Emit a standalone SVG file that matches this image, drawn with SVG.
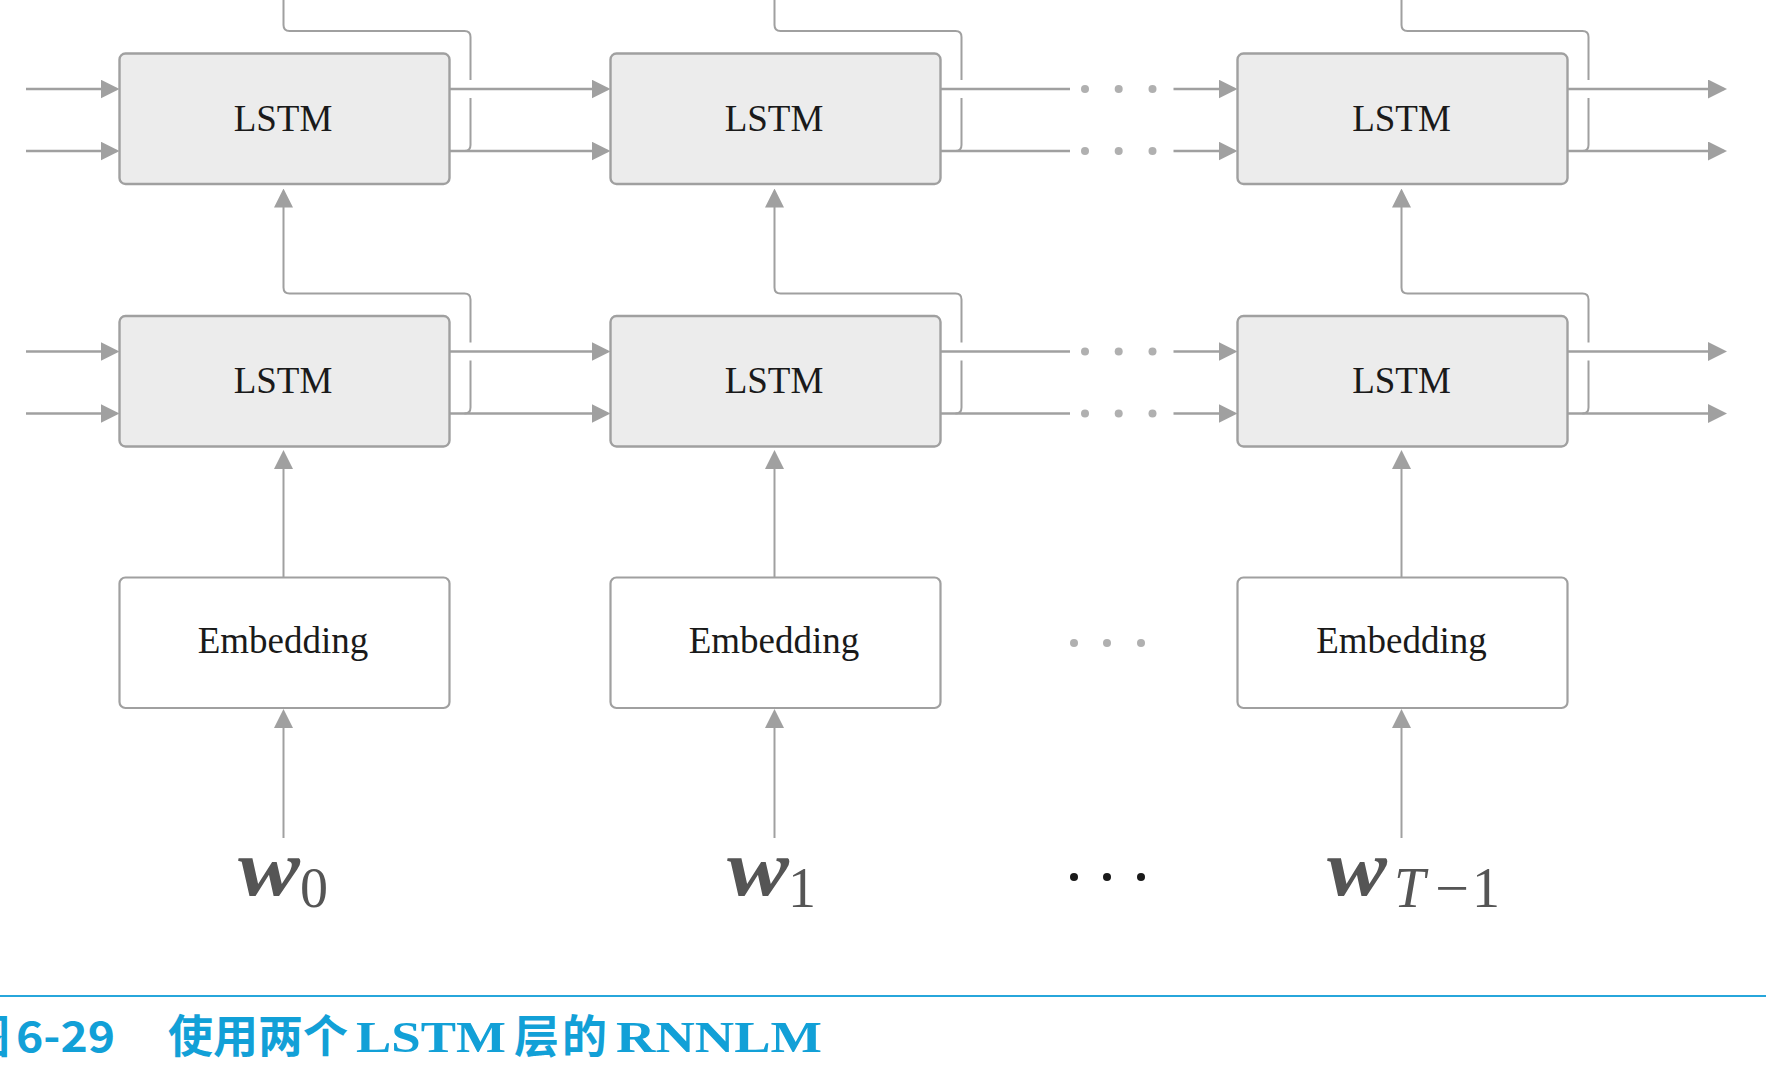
<svg xmlns="http://www.w3.org/2000/svg" width="1766" height="1068" viewBox="0 0 1766 1068">
<style>
.lstm rect{fill:#ececec;stroke:#a0a0a0;stroke-width:2.4}
.emb rect{fill:#ffffff;stroke:#a0a0a0;stroke-width:2.2}
.lbl{font-family:"Liberation Serif","DejaVu Serif",serif;font-size:37px;fill:#1a1a1a;text-anchor:middle}
.ln{fill:none;stroke:#a0a0a0;stroke-width:2.4}
.fb{fill:none;stroke:#a0a0a0;stroke-width:2}
.vt{fill:none;stroke:#a0a0a0;stroke-width:2}
.gd{fill:#b0b0b0}
.bd{fill:#1a1a1a}
.w{font-family:"Liberation Serif","DejaVu Serif",serif;font-weight:bold;font-style:italic;font-size:80px;fill:#555555}
.sub{font-family:"Liberation Serif","DejaVu Serif",serif;font-size:56px;fill:#555555}
.cap{fill:#12a0d7;font-weight:bold}
.cj{font-family:"Noto Sans CJK SC",sans-serif;font-size:45px}
.cl{font-family:"Liberation Serif","DejaVu Serif",serif;font-size:45px}
</style>
<defs>
<marker id="ah" markerUnits="userSpaceOnUse" viewBox="0 0 19 19" refX="16" refY="9.5" markerWidth="19" markerHeight="19" orient="auto">
<path d="M0,0 L19,9.5 L0,19 Z" fill="#a0a0a0"/>
</marker>
</defs>
<rect x="0" y="0" width="1766" height="1068" fill="#ffffff"/>

<g id="connectors">
<line class="ln" x1="26" y1="89" x2="116.5" y2="89" marker-end="url(#ah)"/>
<line class="ln" x1="26" y1="151" x2="116.5" y2="151" marker-end="url(#ah)"/>
<line class="ln" x1="26" y1="351.5" x2="116.5" y2="351.5" marker-end="url(#ah)"/>
<line class="ln" x1="26" y1="413.5" x2="116.5" y2="413.5" marker-end="url(#ah)"/>
<line class="ln" x1="449.5" y1="89" x2="607.5" y2="89" marker-end="url(#ah)"/>
<line class="ln" x1="449.5" y1="151" x2="607.5" y2="151" marker-end="url(#ah)"/>
<line class="ln" x1="449.5" y1="351.5" x2="607.5" y2="351.5" marker-end="url(#ah)"/>
<line class="ln" x1="449.5" y1="413.5" x2="607.5" y2="413.5" marker-end="url(#ah)"/>
<line class="ln" x1="940.5" y1="89" x2="1070" y2="89"/>
<line class="ln" x1="940.5" y1="151" x2="1070" y2="151"/>
<line class="ln" x1="940.5" y1="351.5" x2="1070" y2="351.5"/>
<line class="ln" x1="940.5" y1="413.5" x2="1070" y2="413.5"/>
<line class="ln" x1="1173.5" y1="89" x2="1234.5" y2="89" marker-end="url(#ah)"/>
<line class="ln" x1="1173.5" y1="151" x2="1234.5" y2="151" marker-end="url(#ah)"/>
<line class="ln" x1="1173.5" y1="351.5" x2="1234.5" y2="351.5" marker-end="url(#ah)"/>
<line class="ln" x1="1173.5" y1="413.5" x2="1234.5" y2="413.5" marker-end="url(#ah)"/>
<line class="ln" x1="1567.5" y1="89" x2="1724" y2="89" marker-end="url(#ah)"/>
<line class="ln" x1="1567.5" y1="151" x2="1724" y2="151" marker-end="url(#ah)"/>
<line class="ln" x1="1567.5" y1="351.5" x2="1724" y2="351.5" marker-end="url(#ah)"/>
<line class="ln" x1="1567.5" y1="413.5" x2="1724" y2="413.5" marker-end="url(#ah)"/>
<circle class="gd" cx="1085" cy="89" r="4"/><circle class="gd" cx="1118.7" cy="89" r="4"/><circle class="gd" cx="1152.5" cy="89" r="4"/>
<circle class="gd" cx="1085" cy="151" r="4"/><circle class="gd" cx="1118.7" cy="151" r="4"/><circle class="gd" cx="1152.5" cy="151" r="4"/>
<circle class="gd" cx="1085" cy="351.5" r="4"/><circle class="gd" cx="1118.7" cy="351.5" r="4"/><circle class="gd" cx="1152.5" cy="351.5" r="4"/>
<circle class="gd" cx="1085" cy="413.5" r="4"/><circle class="gd" cx="1118.7" cy="413.5" r="4"/><circle class="gd" cx="1152.5" cy="413.5" r="4"/>
<path class="fb" d="M464.5,151 Q470.5,151 470.5,145 V98 M470.5,80 V37 Q470.5,31 464.5,31 H289.5 Q283.5,31 283.5,25 V-2"/>
<path class="fb" d="M955.5,151 Q961.5,151 961.5,145 V98 M961.5,80 V37 Q961.5,31 955.5,31 H780.5 Q774.5,31 774.5,25 V-2"/>
<path class="fb" d="M1582.5,151 Q1588.5,151 1588.5,145 V98 M1588.5,80 V37 Q1588.5,31 1582.5,31 H1407.5 Q1401.5,31 1401.5,25 V-2"/>
<path class="fb" d="M464.5,413.5 Q470.5,413.5 470.5,407.5 V360.5 M470.5,342.5 V299.5 Q470.5,293.5 464.5,293.5 H289.5 Q283.5,293.5 283.5,287.5 V191.5" marker-end="url(#ah)"/>
<path class="fb" d="M955.5,413.5 Q961.5,413.5 961.5,407.5 V360.5 M961.5,342.5 V299.5 Q961.5,293.5 955.5,293.5 H780.5 Q774.5,293.5 774.5,287.5 V191.5" marker-end="url(#ah)"/>
<path class="fb" d="M1582.5,413.5 Q1588.5,413.5 1588.5,407.5 V360.5 M1588.5,342.5 V299.5 Q1588.5,293.5 1582.5,293.5 H1407.5 Q1401.5,293.5 1401.5,287.5 V191.5" marker-end="url(#ah)"/>
<line class="vt" x1="283.5" y1="577.5" x2="283.5" y2="453" marker-end="url(#ah)"/>
<line class="vt" x1="774.5" y1="577.5" x2="774.5" y2="453" marker-end="url(#ah)"/>
<line class="vt" x1="1401.5" y1="577.5" x2="1401.5" y2="453" marker-end="url(#ah)"/>
<line class="vt" x1="283.5" y1="838" x2="283.5" y2="712" marker-end="url(#ah)"/>
<line class="vt" x1="774.5" y1="838" x2="774.5" y2="712" marker-end="url(#ah)"/>
<line class="vt" x1="1401.5" y1="838" x2="1401.5" y2="712" marker-end="url(#ah)"/>
</g>

<g id="lstm-top-0" class="lstm"><rect x="119.5" y="53.5" width="330" height="130.5" rx="6"/><text class="lbl" x="283" y="131">LSTM</text></g>
<g id="lstm-top-1" class="lstm"><rect x="610.5" y="53.5" width="330" height="130.5" rx="6"/><text class="lbl" x="774" y="131">LSTM</text></g>
<g id="lstm-top-T" class="lstm"><rect x="1237.5" y="53.5" width="330" height="130.5" rx="6"/><text class="lbl" x="1401.5" y="131">LSTM</text></g>

<g id="lstm-bot-0" class="lstm"><rect x="119.5" y="316" width="330" height="130.5" rx="6"/><text class="lbl" x="283" y="393.3">LSTM</text></g>
<g id="lstm-bot-1" class="lstm"><rect x="610.5" y="316" width="330" height="130.5" rx="6"/><text class="lbl" x="774" y="393.3">LSTM</text></g>
<g id="lstm-bot-T" class="lstm"><rect x="1237.5" y="316" width="330" height="130.5" rx="6"/><text class="lbl" x="1401.5" y="393.3">LSTM</text></g>

<g id="emb-0" class="emb"><rect x="119.5" y="577.5" width="330" height="130.5" rx="6"/><text class="lbl" x="283" y="652.7">Embedding</text></g>
<g id="emb-1" class="emb"><rect x="610.5" y="577.5" width="330" height="130.5" rx="6"/><text class="lbl" x="774" y="652.7">Embedding</text></g>
<g id="emb-T" class="emb"><rect x="1237.5" y="577.5" width="330" height="130.5" rx="6"/><text class="lbl" x="1401.5" y="652.7">Embedding</text></g>

<g id="emb-dots">
<circle class="gd" cx="1074" cy="643" r="4"/><circle class="gd" cx="1107" cy="643" r="4"/><circle class="gd" cx="1141" cy="643" r="4"/>
</g>

<g id="word-0"><text class="w" x="238" y="895" textLength="62" lengthAdjust="spacingAndGlyphs">w</text><text class="sub" x="300" y="907">0</text></g>
<g id="word-1"><text class="w" x="727" y="895" textLength="62" lengthAdjust="spacingAndGlyphs">w</text><text class="sub" x="788" y="907">1</text></g>
<g id="word-dots">
<circle class="bd" cx="1074" cy="877" r="4"/><circle class="bd" cx="1107" cy="877" r="4"/><circle class="bd" cx="1141" cy="877" r="4"/>
</g>
<g id="word-T"><text class="w" x="1327" y="895" textLength="60" lengthAdjust="spacingAndGlyphs">w</text><text class="sub" x="1394" y="907" font-style="italic">T</text><text class="sub" x="1435" y="907" textLength="34" lengthAdjust="spacingAndGlyphs">−</text><text class="sub" x="1472" y="907">1</text></g>

<g id="caption">
<line x1="0" y1="996" x2="1766" y2="996" stroke="#27a6db" stroke-width="2"/>
<text class="cap cj" x="-35" y="1053">图</text>
<text class="cap" x="16" y="1052" font-family="Noto Sans CJK SC, sans-serif" font-size="42" textLength="99" lengthAdjust="spacingAndGlyphs">6-29</text>
<text class="cap cj" x="168" y="1053">使用两个</text>
<text class="cap cl" x="356" y="1052" textLength="150" lengthAdjust="spacingAndGlyphs">LSTM</text>
<text class="cap cj" x="514" y="1053" letter-spacing="3">层的</text>
<text class="cap cl" x="616" y="1052" textLength="206" lengthAdjust="spacingAndGlyphs">RNNLM</text>
</g>
</svg>
